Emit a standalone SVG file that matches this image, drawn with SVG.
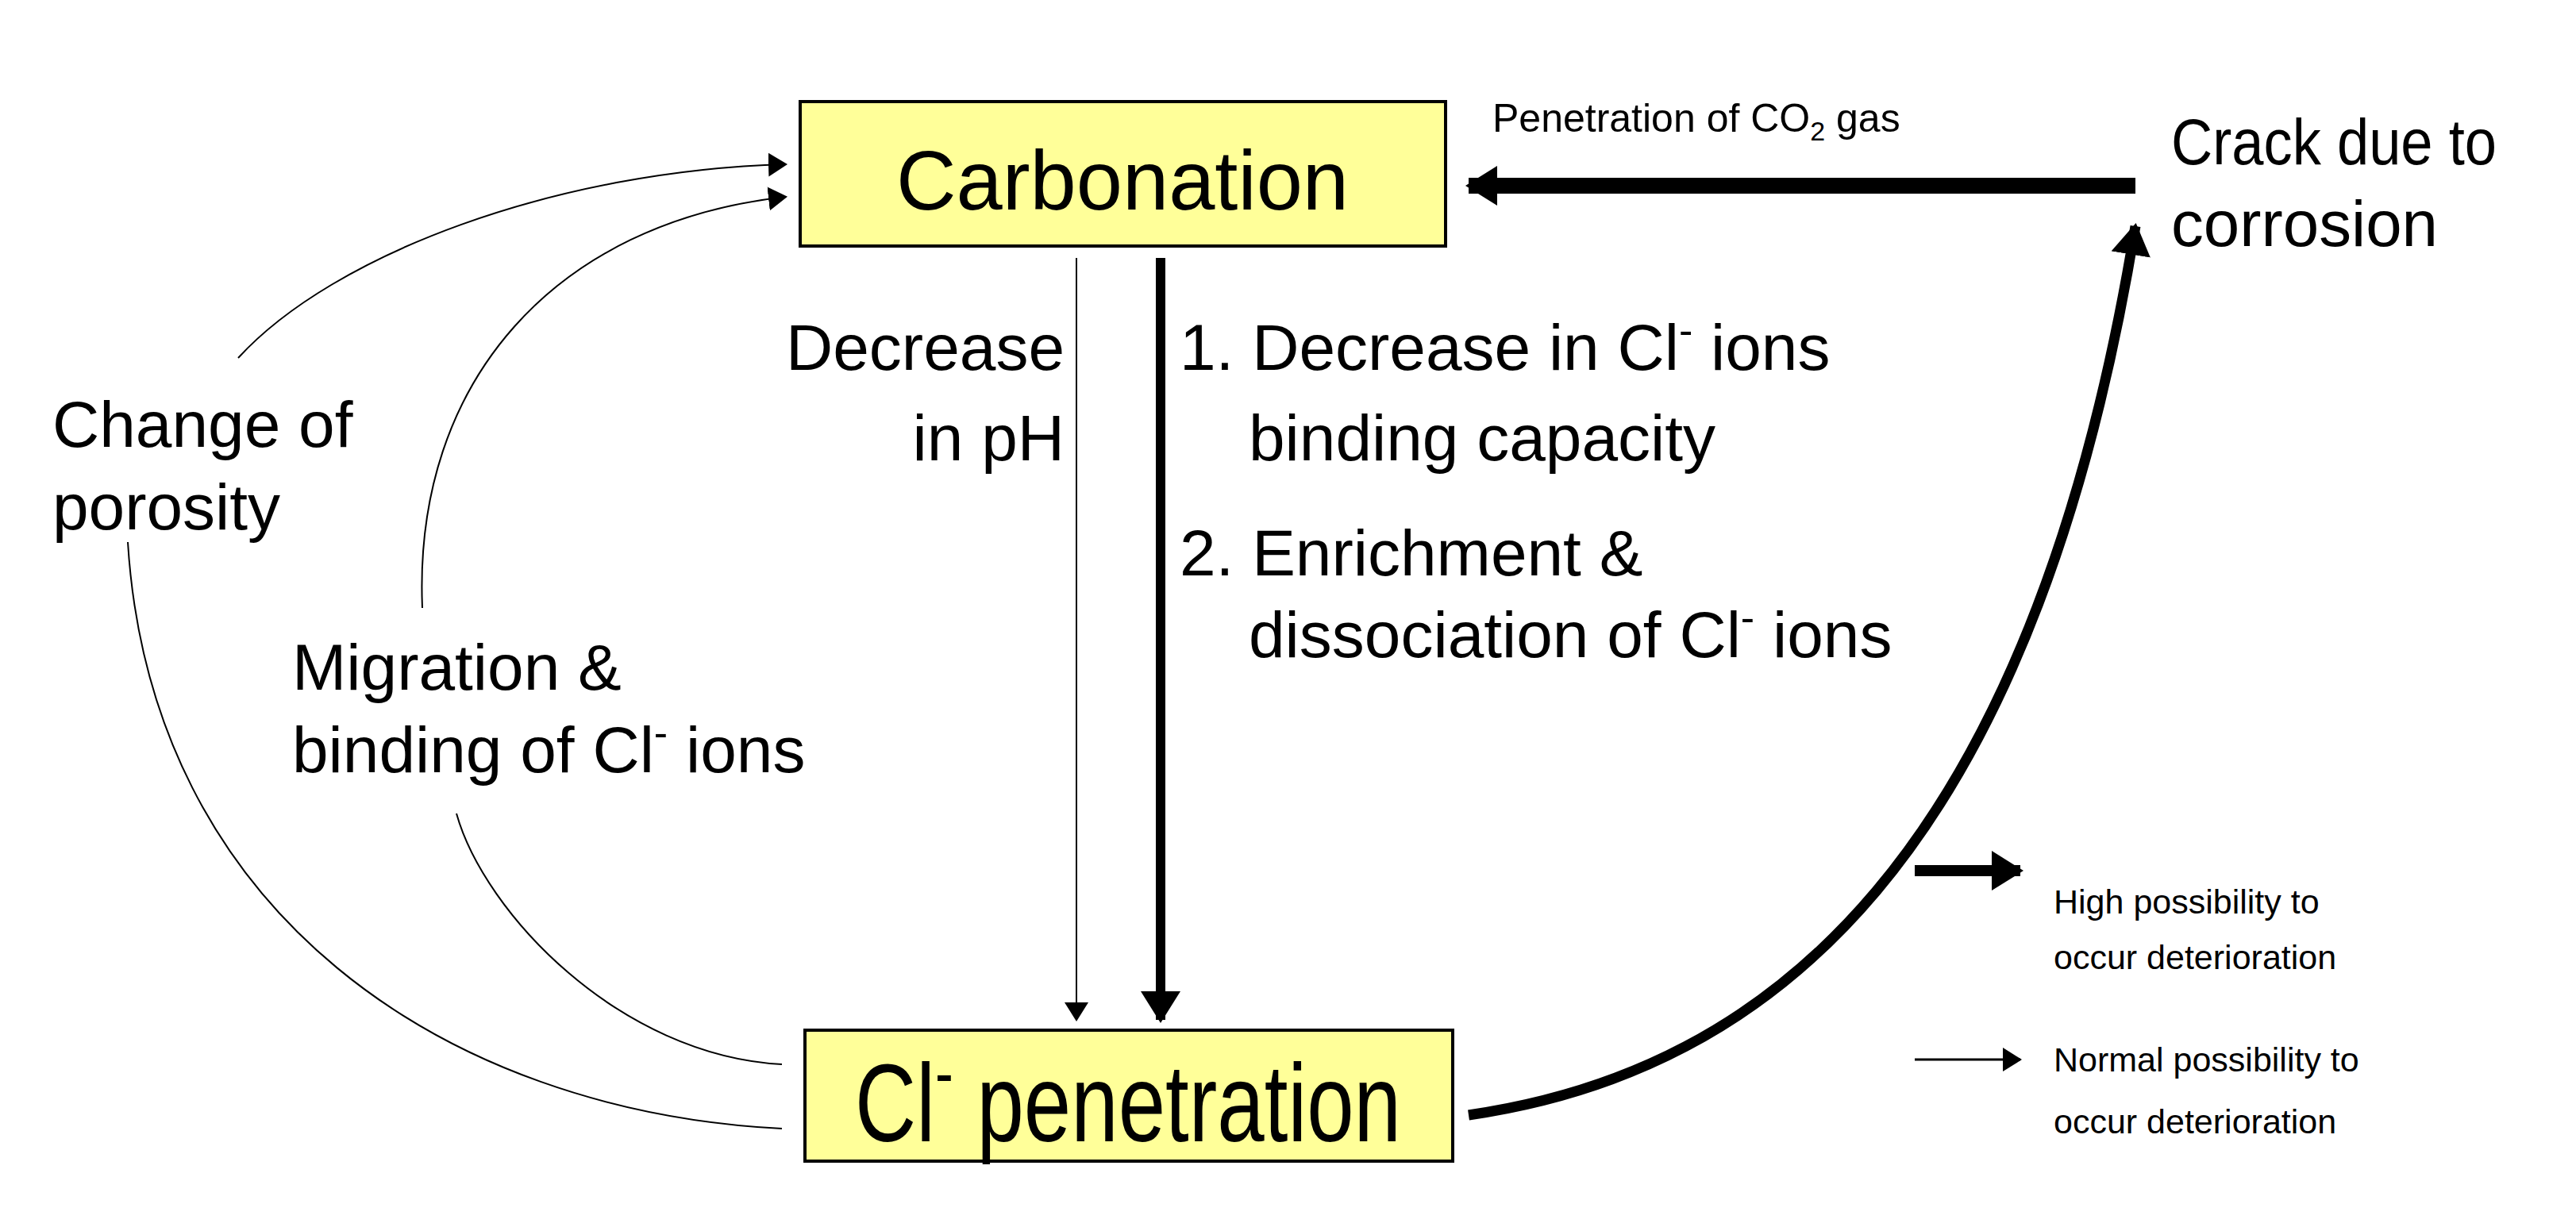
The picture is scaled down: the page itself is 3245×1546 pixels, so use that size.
<svg xmlns="http://www.w3.org/2000/svg" width="3245" height="1546" viewBox="0 0 3245 1546">
<style>
text{font-family:"Liberation Sans",Arial,sans-serif;fill:#000}
.lbl{font-size:82px}
.leg{font-size:43px}
.box{fill:#ffff99;stroke:#000;stroke-width:4}
.thin{fill:none;stroke:#000;stroke-width:2}
.thick{fill:none;stroke:#000;stroke-width:13}
</style>
<defs>
<marker id="ahs" markerWidth="24" markerHeight="30" refX="22" refY="15" orient="auto" markerUnits="userSpaceOnUse" viewBox="0 0 24 30"><path d="M0,0 L24,15 L0,30 Z"/></marker>
<marker id="ahb" markerWidth="40" markerHeight="50" refX="36" refY="25" orient="auto" markerUnits="userSpaceOnUse" viewBox="0 0 40 50"><path d="M0,0 L40,25 L0,50 Z"/></marker>
</defs>
<g id="carbonation">
<rect class="box" x="1008" y="128" width="813" height="182"/>
<text x="1414" y="264" font-size="106" text-anchor="middle" textLength="570" lengthAdjust="spacingAndGlyphs">Carbonation</text>
</g>
<g id="cl-penetration">
<rect class="box" x="1014" y="1298" width="816" height="165"/>
<text x="1077" y="1438" font-size="140" textLength="688" lengthAdjust="spacingAndGlyphs">Cl<tspan font-size="90" dy="-55">-</tspan><tspan dy="55"> penetration</tspan></text>
</g>
<g id="crack">
<text class="lbl" x="2735" y="207" textLength="410" lengthAdjust="spacingAndGlyphs">Crack due to</text>
<text class="lbl" x="2735" y="310" textLength="336" lengthAdjust="spacingAndGlyphs">corrosion</text>
</g>
<g id="connectors">
<line x1="2690" y1="234" x2="1850" y2="234" stroke="#000" stroke-width="20" marker-end="url(#ahb)"/>
<line class="thin" x1="1356" y1="325" x2="1356" y2="1285" marker-end="url(#ahs)"/>
<line x1="1462" y1="325" x2="1462" y2="1285" stroke="#000" stroke-width="12" marker-end="url(#ahb)"/>
<path class="thick" d="M1850 1405 C2230 1350 2560 1080 2690 285" marker-end="url(#ahb)"/>
<path class="thin" d="M985 1422 C560 1400 190 1150 161 683"/>
<path class="thin" d="M300 451 C420 320 700 215 990 207" marker-end="url(#ahs)"/>
<path class="thin" d="M985 1341 C780 1330 610 1150 575 1025"/>
<path class="thin" d="M532 766 C520 480 700 280 990 248" marker-end="url(#ahs)"/>
</g>
<g id="labels">
<text x="1880" y="166" font-size="50">Penetration of CO<tspan font-size="34" dy="11">2</tspan><tspan dy="-11"> gas</tspan></text>
<text class="lbl" x="1341" y="466" text-anchor="end">Decrease</text>
<text class="lbl" x="1341" y="580" text-anchor="end">in pH</text>
<text class="lbl" x="1486" y="466">1. Decrease in Cl<tspan font-size="52" dy="-32">-</tspan><tspan dy="32"> ions</tspan></text>
<text class="lbl" x="1573" y="580">binding capacity</text>
<text class="lbl" x="1486" y="725">2. Enrichment &amp;</text>
<text class="lbl" x="1573" y="828">dissociation of Cl<tspan font-size="52" dy="-32">-</tspan><tspan dy="32"> ions</tspan></text>
<text class="lbl" x="66" y="563">Change of</text>
<text class="lbl" x="66" y="667">porosity</text>
<text class="lbl" x="368" y="869">Migration &amp;</text>
<text class="lbl" x="368" y="973">binding of Cl<tspan font-size="52" dy="-32">-</tspan><tspan dy="32"> ions</tspan></text>
</g>
<g id="legend">
<line x1="2412" y1="1097" x2="2545" y2="1097" stroke="#000" stroke-width="14" marker-end="url(#ahb)"/>
<text class="leg" x="2587" y="1151">High possibility to</text>
<text class="leg" x="2587" y="1221">occur deterioration</text>
<line x1="2412" y1="1335" x2="2545" y2="1335" stroke="#000" stroke-width="3" marker-end="url(#ahs)"/>
<text class="leg" x="2587" y="1350">Normal possibility to</text>
<text class="leg" x="2587" y="1428">occur deterioration</text>
</g>
</svg>
